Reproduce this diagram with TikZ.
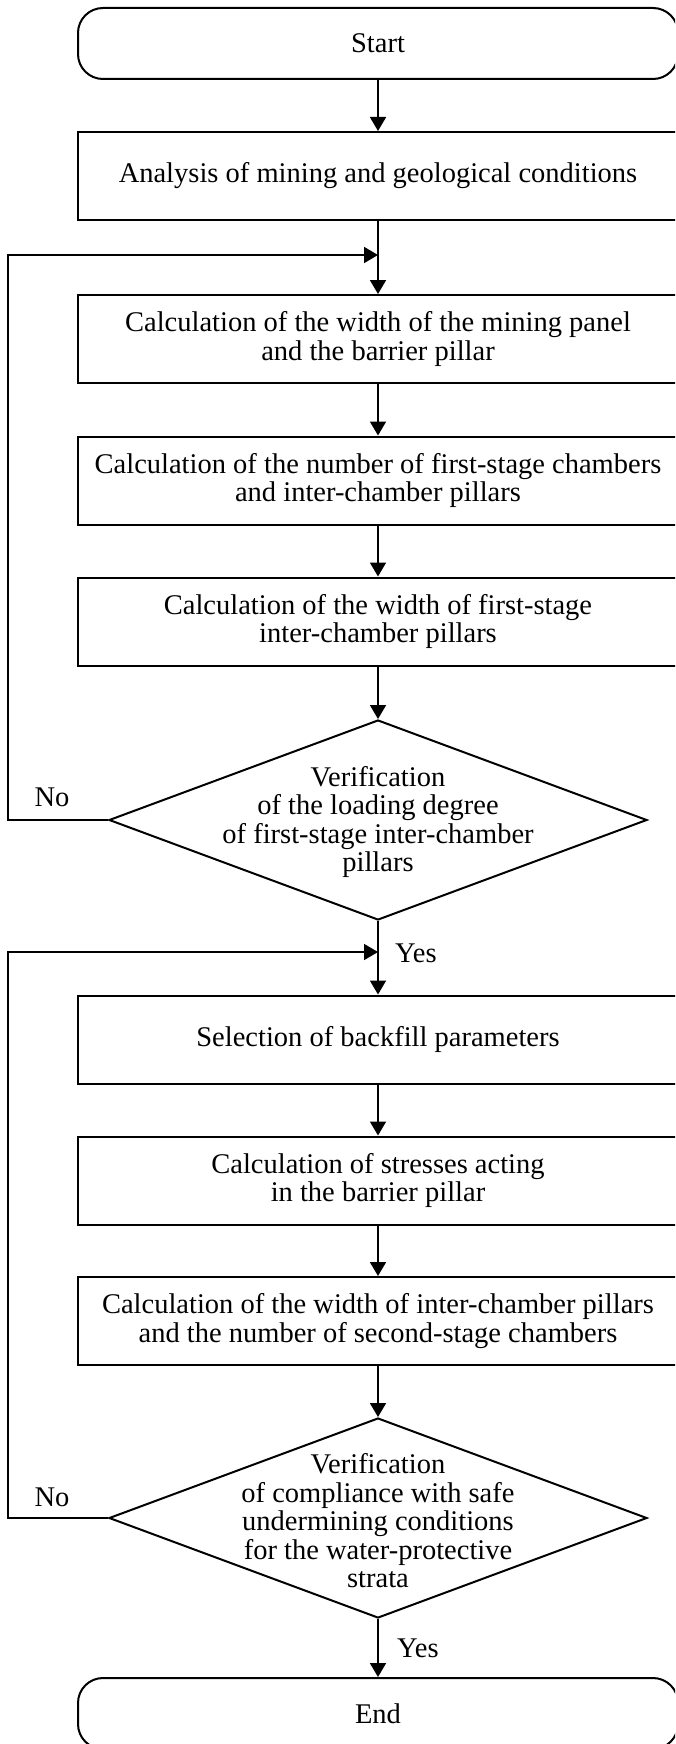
\documentclass[tikz,border=0pt]{standalone}
\usepackage{fontspec}
\setmainfont{Liberation Serif}
\usetikzlibrary{arrows.meta,shapes.geometric}
\begin{document}
\begin{tikzpicture}[x=1pt,y=-1pt,
  every node/.style={font=\fontsize{28.5}{28.5}\selectfont},
  box/.style={draw, line width=2pt, minimum width=600pt, minimum height=88pt, align=center, inner sep=0pt},
  term/.style={box, rounded corners=25pt, minimum height=71pt},
  dia/.style={draw, line width=2pt, diamond, minimum width=538pt, minimum height=200pt, inner sep=0pt},
  arr/.style={line width=1.8pt, -{Triangle[length=14pt,width=16pt]}},
  ln/.style={line width=1.8pt}]
\useasboundingbox (0,0) rectangle (675,1744);
\clip (0,0) rectangle (675,1744);

\node[term] (start) at (378,43.5) {Start};
\node[box] (ana) at (378,176) {Analysis of mining and geological conditions};
\node[box] (b3) at (378,339) {Calculation of the width of the mining panel\\and the barrier pillar};
\node[box] (b4) at (378,480.5) {Calculation of the number of first-stage chambers\\and inter-chamber pillars};
\node[box] (b5) at (378,621.5) {Calculation of the width of first-stage\\inter-chamber pillars};
\node[dia] (d1) at (378,820) {};
\node[align=center, inner sep=0pt] (t1) at (378,822) {Verification\\of the loading degree\\of first-stage inter-chamber\\pillars};
\node[box] (b6) at (378,1039.5) {Selection of backfill parameters};
\node[box] (b7) at (378,1180.5) {Calculation of stresses acting\\in the barrier pillar};
\node[box] (b8) at (378,1321) {Calculation of the width of inter-chamber pillars\\and the number of second-stage chambers};
\node[dia] (d2) at (378,1518) {};
\node[align=center, inner sep=0pt] (t2) at (378,1521) {Verification\\of compliance with safe\\undermining conditions\\for the water-protective\\strata};
\node[term] (end) at (378,1713.5) {End};

\node (no1) at (52,797) {No};
\node (no2) at (52,1497) {No};
\node[anchor=west, inner sep=0pt] (yes1) at (395,953) {Yes};
\node[anchor=west, inner sep=0pt] (yes2) at (397,1648) {Yes};

\coordinate (j1) at (378,255);
\coordinate (l1) at (8,255);
\coordinate (j2) at (378,952);
\coordinate (l2) at (8,952);

\draw[arr] (start) -- (ana);
\draw[arr] (ana) -- (b3);
\draw[arr] (b3) -- (b4);
\draw[arr] (b4) -- (b5);
\draw[arr] (b5) -- (d1.north);
\draw[arr] (d1.south) -- (b6);
\draw[arr] (b6) -- (b7);
\draw[arr] (b7) -- (b8);
\draw[arr] (b8) -- (d2.north);
\draw[arr] (d2.south) -- (end);
\draw[arr] (d1.west) -| (l1) -- (j1);
\draw[arr] (d2.west) -| (l2) -- (j2);
\end{tikzpicture}
\end{document}
